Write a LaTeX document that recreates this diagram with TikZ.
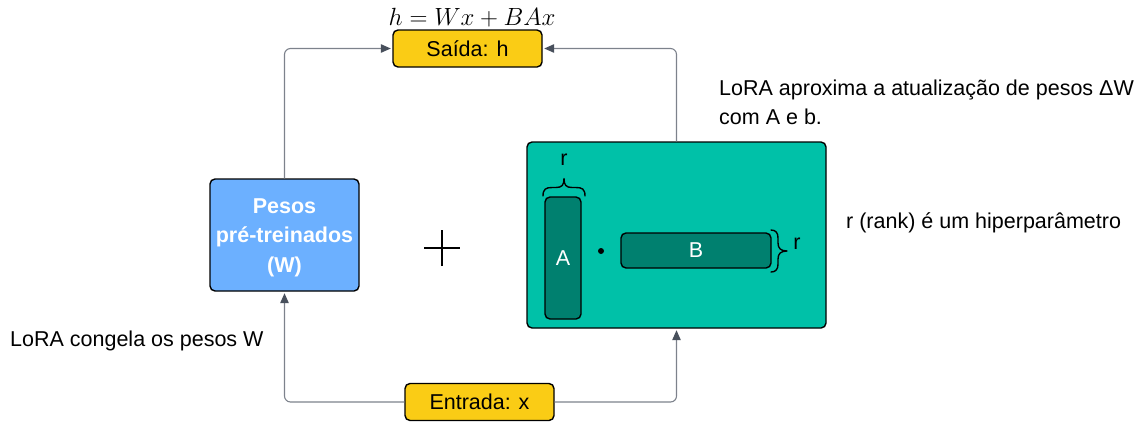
\documentclass[tikz,border=0pt]{standalone}
\usepackage{fontspec}
\setmainfont{Liberation Sans}
\usetikzlibrary{arrows.meta}
\definecolor{boxyellow}{RGB}{250,204,21}
\definecolor{boxblue}{RGB}{108,176,255}
\definecolor{boxteal}{RGB}{0,193,168}
\definecolor{darkteal}{RGB}{0,128,111}
\definecolor{linegray}{RGB}{125,130,140}
\definecolor{tipgray}{RGB}{72,80,92}
\tikzset{
  txt/.style={font=\fontsize{21.5}{25}\selectfont},
  box/.style={draw=black, line width=1.4pt, rounded corners=5pt, inner sep=0pt, txt},
  ybox/.style={box, fill=boxyellow, minimum width=149pt, minimum height=37pt},
  mat/.style={draw=black, line width=1.4pt, rounded corners=5pt, fill=darkteal, inner sep=0pt, text=white, txt},
  conn/.style={draw=linegray, line width=1.1pt, rounded corners=6pt, shorten >=1.5pt,
    -{Triangle[length=10pt,width=8.5pt,fill=tipgray,color=tipgray]}},
  curly/.style={line width=1.4pt, line cap=round, line join=round},
  note/.style={txt, anchor=base west, inner sep=0pt},
}
\begin{document}
\begin{tikzpicture}[x=1pt,y=-1pt]
\useasboundingbox (0,0) rectangle (1139,421);

% output and input boxes
\node[ybox] (saida) at (467.5,48.5) {Saída: h};
\node[ybox] (entrada) at (479.5,402) {Entrada: x};
\node[anchor=base, inner sep=0pt, font=\fontsize{23.5}{26}\selectfont] (eq) at (472,25.5) {$h = Wx + BAx$};

% frozen pretrained weights
\node[box, fill=boxblue, minimum width=149pt, minimum height=112pt] (pesos) at (284.5,235) {};
\node[text=white, inner sep=0pt, align=center,
  font=\fontsize{21.5}{29.5}\selectfont\bfseries] (pesoslabel) at (284.5,237.5)
  {Pesos\\pré-treinados\\(W)};

% plus sign
\coordinate (plus) at (442,248);
\draw[line width=1.3pt] ([xshift=-18pt]plus) -- ([xshift=18pt]plus)
  ([yshift=-18pt]plus) -- ([yshift=18pt]plus);

% low-rank update block
\node[box, fill=boxteal, minimum width=299pt, minimum height=186pt] (lora) at (676.5,235) {};
\node[mat, minimum width=36pt, minimum height=122pt] (A) at (563,258) {A};
\node[mat, minimum width=150pt, minimum height=35pt] (B) at (696,250.5) {B};
\fill (601,251) circle (3pt);

% rank braces
\draw[curly] (543,196) .. controls (543,189) and (546,187.5) .. (552,187.5) -- (556,187.5)
  .. controls (562,187.5) and (564,185) .. (564,178.5)
  .. controls (564,185) and (566,187.5) .. (572,187.5) -- (576,187.5)
  .. controls (582,187.5) and (585,189) .. (585,196);
\node[txt, inner sep=0pt] (rA) at (564,160) {r};
\draw[curly] (771,230) .. controls (776,230) and (778,233) .. (778,238) -- (778,243)
  .. controls (778,248.5) and (781,251) .. (787,251)
  .. controls (781,251) and (778,253.5) .. (778,259) -- (778,264)
  .. controls (778,269) and (776,272) .. (771,272);
\node[txt, inner sep=0pt] (rB) at (797,244) {r};

% connectors
\draw[conn] (pesos.north) |- (saida.west);
\draw[conn] (lora.north) |- (saida.east);
\draw[conn] (entrada.west) -| (pesos.south);
\draw[conn] (entrada.east) -| (lora.south);

% annotations
\node[note] (n1) at (10,346) {LoRA congela os pesos W};
\node[note] (n2) at (719,95) {LoRA aproxima a atualização de pesos ΔW};
\node[note] (n3) at (719,124) {com A e b.};
\node[note] (n4) at (846,228) {r (rank) é um hiperparâmetro};
\end{tikzpicture}
\end{document}
